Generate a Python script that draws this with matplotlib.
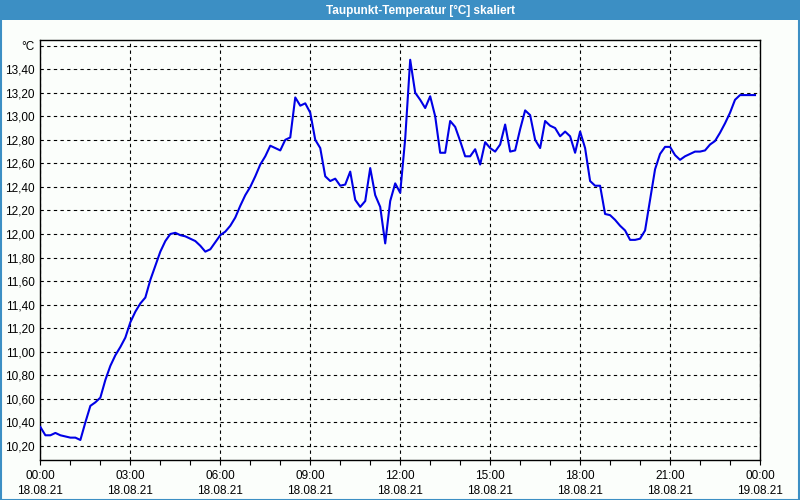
import numpy as np
import matplotlib
matplotlib.use("Agg")
import matplotlib.pyplot as plt
from matplotlib.patches import Rectangle
from matplotlib.ticker import FixedLocator, MultipleLocator

# Taupunkt-Temperatur, one sample every 10 minutes starting 18.08.21 00:00
sample_step_min = 10
dewpoint = [
    10.36, 10.29, 10.29, 10.31, 10.29, 10.28, 10.27, 10.27, 10.25, 10.40,
    10.54, 10.57, 10.61, 10.76, 10.88, 10.97, 11.04, 11.12, 11.25, 11.34,
    11.41, 11.46, 11.61, 11.73, 11.85, 11.94, 12.00, 12.01, 11.99, 11.98,
    11.96, 11.94, 11.90, 11.85, 11.87, 11.93, 11.99, 12.02, 12.07, 12.14,
    12.24, 12.33, 12.40, 12.49, 12.59, 12.66, 12.75, 12.73, 12.71, 12.80,
    12.82, 13.16, 13.09, 13.11, 13.03, 12.80, 12.73, 12.49, 12.45, 12.47,
    12.41, 12.42, 12.53, 12.29, 12.23, 12.28, 12.56, 12.33, 12.23, 11.92,
    12.28, 12.43, 12.35, 12.81, 13.48, 13.20, 13.14, 13.07, 13.17, 13.00,
    12.69, 12.69, 12.96, 12.91, 12.79, 12.66, 12.66, 12.72, 12.59, 12.78,
    12.73, 12.70, 12.76, 12.93, 12.70, 12.71, 12.89, 13.05, 13.01, 12.80,
    12.73, 12.96, 12.92, 12.90, 12.83, 12.87, 12.83, 12.69, 12.87, 12.73,
    12.45, 12.41, 12.41, 12.17, 12.16, 12.12, 12.07, 12.03, 11.95, 11.95,
    11.96, 12.03, 12.29, 12.55, 12.68, 12.74, 12.74, 12.67, 12.63, 12.66,
    12.68, 12.70, 12.70, 12.71, 12.76, 12.79, 12.86, 12.94, 13.03, 13.14,
    13.18, 13.18, 13.18, 13.18,
]
hours = np.arange(len(dewpoint)) * sample_step_min / 60.0

x_tick_hours = [0, 3, 6, 9, 12, 15, 18, 21, 24]
x_tick_labels = [
    "00:00\n18.08.21", "03:00\n18.08.21", "06:00\n18.08.21",
    "09:00\n18.08.21", "12:00\n18.08.21", "15:00\n18.08.21",
    "18:00\n18.08.21", "21:00\n18.08.21", "00:00\n19.08.21",
]
y_ticks = [10.2, 10.4, 10.6, 10.8, 11.0, 11.2, 11.4, 11.6, 11.8, 12.0,
           12.2, 12.4, 12.6, 12.8, 13.0, 13.2, 13.4, 13.6]
y_tick_labels = [f"{v:.2f}".replace(".", ",") for v in y_ticks[:-1]] + ["°C"]

bg = "#fbfefb"
bar_blue = "#3c8fc4"
plt.rcParams["font.family"] = ["Liberation Sans", "DejaVu Sans"]

fig = plt.figure(figsize=(8, 5), dpi=100, facecolor=bg)
ax = fig.add_axes([0.0505, 0.08, 0.8995, 0.84], facecolor=bg)

ax.plot(hours, dewpoint, color="#0000e6", linewidth=1.5, zorder=5)

ax.set_xlim(0, 24)
ax.set_ylim(10.08, 13.648)

ax.xaxis.set_major_locator(FixedLocator(x_tick_hours))
ax.xaxis.set_minor_locator(MultipleLocator(1))
ax.set_xticklabels(x_tick_labels, fontsize=8.5, linespacing=1.3)
ax.tick_params(axis="x", which="both", direction="out", length=3.5,
               width=0.8, color="black", pad=4)

ax.yaxis.set_major_locator(FixedLocator(y_ticks))
ax.set_yticklabels(y_tick_labels, fontsize=8.5)
ax.tick_params(axis="y", length=0, pad=4)

ax.grid(True, which="major", color="black", linestyle=(0, (3, 3)),
        linewidth=0.8)
for s in ax.spines.values():
    s.set_color("black")
    s.set_linewidth(1.0)

# title bar and window frame
fig.patches.append(Rectangle((0, 0.96), 1, 0.04, transform=fig.transFigure,
                             facecolor=bar_blue, edgecolor="none", zorder=0))
fig.patches.append(Rectangle((0.001, 0.001), 0.998, 0.998,
                             transform=fig.transFigure, facecolor="none",
                             edgecolor=bar_blue, linewidth=1.5, zorder=1))
fig.text(0.525, 0.979, "Taupunkt-Temperatur [°C] skaliert", color="white",
         fontsize=8.5, fontweight="bold", ha="center", va="center")

fig.savefig("out.png", dpi=100, facecolor=bg)
